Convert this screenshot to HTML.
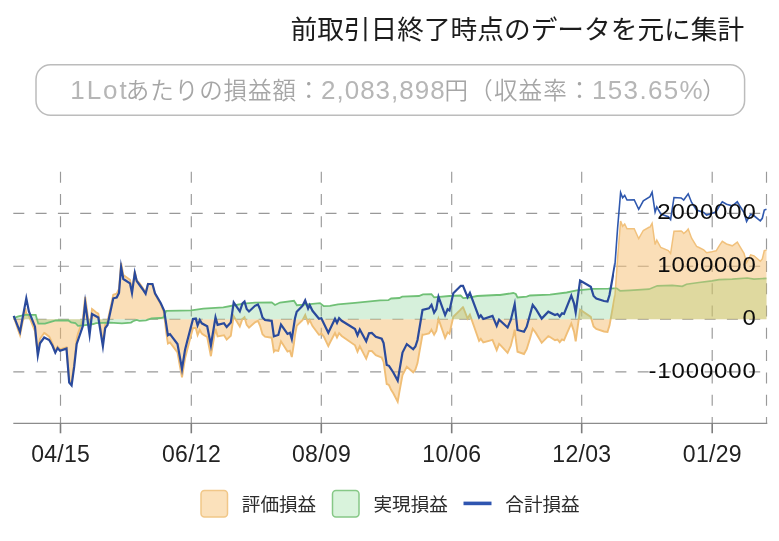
<!DOCTYPE html>
<html lang="ja"><head><meta charset="utf-8"><title>chart</title>
<style>
html,body{margin:0;padding:0;background:#fff;}
body{width:779px;height:541px;overflow:hidden;}
svg{display:block;}
text{font-family:"Liberation Sans","Noto Sans CJK JP",sans-serif;}
.ttl{font-size:26.7px;fill:#1c1c1c;font-weight:400;}
.box{fill:#a6a6a6;font-weight:350;}
.lat{font-size:26px;fill:#b6b6b6;}
.cjk{font-size:23.5px;}
.yl{font-size:22px;fill:#0c0c0c;letter-spacing:0.8px;}
.xl{font-size:23px;fill:#222;letter-spacing:0.3px;}
.lg{font-size:18.6px;fill:#2c2c2c;}
</style></head><body>
<svg width="779" height="541" viewBox="0 0 779 541">
<rect width="779" height="541" fill="#fff"/>
<text x="744.2" y="39.2" text-anchor="end" class="ttl">前取引日終了時点のデータを元に集計</text>
<rect x="36" y="64.8" width="708.6" height="50.4" rx="14.5" ry="14.5" fill="#fff" stroke="#bcbcbc" stroke-width="1.5"/>
<text class="box"><tspan x="70.3" y="99.1" class="lat" style="letter-spacing:1.9px">1Lot</tspan><tspan x="125.8" y="98.8" class="cjk" style="letter-spacing:0.95px">あたりの損益額：</tspan><tspan x="321" y="99.1" class="lat" style="letter-spacing:1.0px">2,083,898</tspan><tspan x="444.6" y="98.8" class="cjk" style="letter-spacing:1.15px">円（収益率：</tspan><tspan x="592" y="99.1" class="lat" style="letter-spacing:1.34px">153.65%</tspan><tspan x="702.2" y="98.8" class="cjk">）</tspan></text>
<g stroke="#999" stroke-width="1.15" stroke-dasharray="11 11.3" fill="none">
<line x1="13.3" y1="213.3" x2="766.5" y2="213.3"/>
<line x1="13.3" y1="266.2" x2="766.5" y2="266.2"/>
<line x1="13.3" y1="319.2" x2="766.5" y2="319.2"/>
<line x1="13.3" y1="371.8" x2="766.5" y2="371.8"/>
<line x1="60.5" y1="171.7" x2="60.5" y2="423.3"/>
<line x1="191.3" y1="171.7" x2="191.3" y2="423.3"/>
<line x1="321.3" y1="171.7" x2="321.3" y2="423.3"/>
<line x1="451.7" y1="171.7" x2="451.7" y2="423.3"/>
<line x1="581.7" y1="171.7" x2="581.7" y2="423.3"/>
<line x1="712.2" y1="171.7" x2="712.2" y2="423.3"/>
<line x1="766.5" y1="171.7" x2="766.5" y2="423.3"/>
</g>
<g stroke="#8c8c8c" stroke-width="1.2"><line x1="13.3" y1="423.3" x2="767.3" y2="423.3"/>
<line x1="60.5" y1="423.3" x2="60.5" y2="433.3" stroke="#7d7d7d" stroke-width="1.6"/>
<line x1="191.3" y1="423.3" x2="191.3" y2="433.3" stroke="#7d7d7d" stroke-width="1.6"/>
<line x1="321.3" y1="423.3" x2="321.3" y2="433.3" stroke="#7d7d7d" stroke-width="1.6"/>
<line x1="451.7" y1="423.3" x2="451.7" y2="433.3" stroke="#7d7d7d" stroke-width="1.6"/>
<line x1="581.7" y1="423.3" x2="581.7" y2="433.3" stroke="#7d7d7d" stroke-width="1.6"/>
<line x1="712.2" y1="423.3" x2="712.2" y2="433.3" stroke="#7d7d7d" stroke-width="1.6"/>
</g>
<defs><clipPath id="cl"><rect x="0" y="150" width="614.0" height="300"/></clipPath><clipPath id="cr"><rect x="614.0" y="150" width="165.0" height="300"/></clipPath><clipPath id="cl2"><rect x="0" y="150" width="612" height="300"/></clipPath><clipPath id="cr2"><rect x="612" y="150" width="167" height="300"/></clipPath></defs>
<path d="M13.7,319.2 L13.7,316.8 L18.3,330.5 L20.0,335.2 L25.3,308.2 L26.3,313.5 L28.9,315.9 L35.0,331.1 L35.7,338.3 L37.8,352.5 L38.3,347.9 L40.0,338.8 L44.2,333.0 L45.0,333.4 L49.2,336.7 L52.5,343.5 L55.3,351.3 L55.8,350.5 L57.6,346.8 L60.0,349.5 L66.5,347.3 L68.3,370.0 L69.2,380.6 L71.1,381.7 L71.6,382.2 L74.2,363.1 L75.3,352.9 L76.7,338.7 L78.0,333.6 L82.8,320.0 L83.6,312.1 L85.2,296.9 L89.6,329.4 L92.0,309.0 L93.3,309.9 L96.0,312.2 L98.3,313.6 L102.9,342.5 L105.2,324.6 L107.5,321.5 L110.0,310.1 L113.3,294.7 L116.7,293.6 L119.0,289.0 L121.1,262.9 L121.9,267.1 L123.3,274.9 L130.0,279.8 L131.0,284.7 L132.0,290.4 L133.0,284.0 L134.8,271.5 L136.7,280.2 L139.4,283.1 L142.5,287.6 L145.6,292.6 L146.0,290.9 L148.0,283.6 L151.5,284.7 L152.5,284.8 L155.0,294.2 L160.7,304.3 L160.8,304.5 L163.5,311.2 L164.2,314.4 L166.2,332.2 L167.9,343.6 L170.0,342.4 L177.5,352.5 L180.0,366.5 L182.0,377.4 L185.0,358.6 L187.5,348.7 L191.3,334.3 L193.0,328.0 L195.8,328.0 L197.6,335.1 L199.8,330.0 L201.8,333.6 L203.3,334.6 L207.2,337.0 L210.9,356.2 L215.5,328.7 L217.6,336.4 L223.3,335.4 L224.0,335.3 L226.7,339.6 L230.8,335.8 L233.3,318.7 L233.7,316.2 L239.8,326.4 L242.5,318.7 L243.3,318.2 L244.5,317.2 L246.7,324.9 L249.0,327.6 L255.0,322.3 L257.9,320.9 L260.0,325.6 L262.5,334.2 L265.0,336.7 L271.7,337.7 L273.9,351.6 L275.0,350.3 L278.3,350.9 L280.0,345.1 L281.0,341.3 L287.5,351.6 L289.9,350.7 L291.8,357.1 L294.0,343.1 L295.0,335.2 L296.7,326.0 L296.9,325.5 L302.5,320.2 L305.0,315.4 L305.2,315.0 L308.1,323.4 L309.7,320.2 L312.5,326.1 L319.0,334.8 L320.0,334.7 L321.3,333.4 L323.8,336.6 L328.3,346.1 L330.0,342.5 L335.0,333.0 L337.0,337.5 L338.0,335.4 L339.1,333.1 L341.7,336.0 L355.0,345.3 L357.5,351.7 L359.8,346.3 L366.2,358.6 L369.0,351.0 L371.8,351.0 L375.8,355.1 L380.0,356.9 L381.7,357.5 L383.6,361.9 L386.7,384.0 L388.3,384.6 L389.0,385.2 L391.1,389.8 L393.3,393.3 L397.7,401.7 L399.4,391.8 L402.2,376.7 L402.5,375.0 L406.8,366.7 L413.2,372.3 L415.4,369.6 L417.5,363.1 L418.9,354.8 L422.5,334.7 L423.0,334.8 L429.0,333.3 L431.4,330.1 L431.5,329.8 L434.1,334.6 L434.2,334.4 L436.3,331.0 L438.5,319.0 L445.1,337.9 L447.6,332.3 L449.4,333.5 L449.5,333.6 L453.3,316.7 L460.6,309.7 L460.8,309.3 L463.0,307.2 L463.3,307.6 L467.6,318.6 L468.9,316.3 L469.9,314.7 L477.2,335.5 L479.1,340.8 L480.8,338.8 L483.3,342.5 L492.5,339.9 L496.7,350.1 L496.7,350.1 L499.1,343.8 L500.0,344.6 L507.6,352.8 L510.8,345.8 L513.3,335.9 L514.7,329.6 L515.8,339.5 L517.5,351.7 L524.0,354.0 L526.7,349.2 L530.0,338.5 L532.7,328.8 L535.8,332.9 L541.7,342.8 L548.3,336.1 L550.0,337.0 L555.0,340.2 L557.5,339.5 L559.7,342.2 L562.0,339.4 L564.0,340.3 L566.7,333.8 L571.3,323.4 L574.0,331.6 L575.7,341.3 L576.7,334.0 L580.1,309.7 L590.8,316.9 L593.3,325.4 L593.6,326.4 L596.3,328.9 L604.0,331.5 L607.5,332.0 L608.3,329.3 L609.5,325.6 L612.0,311.7 L615.0,294.8 L616.7,271.4 L617.6,258.2 L620.0,228.4 L620.6,221.0 L622.6,226.3 L624.7,224.0 L627.0,228.8 L630.0,228.8 L634.2,228.8 L638.7,238.7 L643.3,230.5 L649.0,227.3 L650.0,227.1 L652.1,223.4 L655.1,244.6 L656.8,240.1 L657.3,241.2 L660.8,247.5 L668.3,250.5 L670.6,253.5 L672.3,242.4 L674.0,231.2 L681.2,231.0 L682.3,231.8 L683.7,233.5 L686.5,231.1 L688.2,229.0 L691.6,238.2 L696.6,246.4 L699.0,247.5 L703.7,249.8 L706.6,252.7 L712.0,251.7 L712.2,251.6 L716.2,250.8 L719.0,246.2 L719.5,245.3 L722.3,241.3 L726.5,244.0 L732.3,245.8 L737.3,242.2 L739.8,246.4 L744.0,253.4 L746.6,262.7 L747.3,261.5 L750.7,254.8 L754.0,255.8 L760.3,261.2 L762.3,258.9 L764.3,250.7 L766.5,250.1 L766.5,319.2 Z" fill="#f5b968" fill-opacity="0.48"/>
<polyline clip-path="url(#cl)" points="13.7,316.8 18.3,330.5 20.0,335.2 25.3,308.2 26.3,313.5 28.9,315.9 35.0,331.1 35.7,338.3 37.8,352.5 38.3,347.9 40.0,338.8 44.2,333.0 45.0,333.4 49.2,336.7 52.5,343.5 55.3,351.3 55.8,350.5 57.6,346.8 60.0,349.5 66.5,347.3 68.3,370.0 69.2,380.6 71.1,381.7 71.6,382.2 74.2,363.1 75.3,352.9 76.7,338.7 78.0,333.6 82.8,320.0 83.6,312.1 85.2,296.9 89.6,329.4 92.0,309.0 93.3,309.9 96.0,312.2 98.3,313.6 102.9,342.5 105.2,324.6 107.5,321.5 110.0,310.1 113.3,294.7 116.7,293.6 119.0,289.0 121.1,262.9 121.9,267.1 123.3,274.9 130.0,279.8 131.0,284.7 132.0,290.4 133.0,284.0 134.8,271.5 136.7,280.2 139.4,283.1 142.5,287.6 145.6,292.6 146.0,290.9 148.0,283.6 151.5,284.7 152.5,284.8 155.0,294.2 160.7,304.3 160.8,304.5 163.5,311.2 164.2,314.4 166.2,332.2 167.9,343.6 170.0,342.4 177.5,352.5 180.0,366.5 182.0,377.4 185.0,358.6 187.5,348.7 191.3,334.3 193.0,328.0 195.8,328.0 197.6,335.1 199.8,330.0 201.8,333.6 203.3,334.6 207.2,337.0 210.9,356.2 215.5,328.7 217.6,336.4 223.3,335.4 224.0,335.3 226.7,339.6 230.8,335.8 233.3,318.7 233.7,316.2 239.8,326.4 242.5,318.7 243.3,318.2 244.5,317.2 246.7,324.9 249.0,327.6 255.0,322.3 257.9,320.9 260.0,325.6 262.5,334.2 265.0,336.7 271.7,337.7 273.9,351.6 275.0,350.3 278.3,350.9 280.0,345.1 281.0,341.3 287.5,351.6 289.9,350.7 291.8,357.1 294.0,343.1 295.0,335.2 296.7,326.0 296.9,325.5 302.5,320.2 305.0,315.4 305.2,315.0 308.1,323.4 309.7,320.2 312.5,326.1 319.0,334.8 320.0,334.7 321.3,333.4 323.8,336.6 328.3,346.1 330.0,342.5 335.0,333.0 337.0,337.5 338.0,335.4 339.1,333.1 341.7,336.0 355.0,345.3 357.5,351.7 359.8,346.3 366.2,358.6 369.0,351.0 371.8,351.0 375.8,355.1 380.0,356.9 381.7,357.5 383.6,361.9 386.7,384.0 388.3,384.6 389.0,385.2 391.1,389.8 393.3,393.3 397.7,401.7 399.4,391.8 402.2,376.7 402.5,375.0 406.8,366.7 413.2,372.3 415.4,369.6 417.5,363.1 418.9,354.8 422.5,334.7 423.0,334.8 429.0,333.3 431.4,330.1 431.5,329.8 434.1,334.6 434.2,334.4 436.3,331.0 438.5,319.0 445.1,337.9 447.6,332.3 449.4,333.5 449.5,333.6 453.3,316.7 460.6,309.7 460.8,309.3 463.0,307.2 463.3,307.6 467.6,318.6 468.9,316.3 469.9,314.7 477.2,335.5 479.1,340.8 480.8,338.8 483.3,342.5 492.5,339.9 496.7,350.1 496.7,350.1 499.1,343.8 500.0,344.6 507.6,352.8 510.8,345.8 513.3,335.9 514.7,329.6 515.8,339.5 517.5,351.7 524.0,354.0 526.7,349.2 530.0,338.5 532.7,328.8 535.8,332.9 541.7,342.8 548.3,336.1 550.0,337.0 555.0,340.2 557.5,339.5 559.7,342.2 562.0,339.4 564.0,340.3 566.7,333.8 571.3,323.4 574.0,331.6 575.7,341.3 576.7,334.0 580.1,309.7 590.8,316.9 593.3,325.4 593.6,326.4 596.3,328.9 604.0,331.5 607.5,332.0 608.3,329.3 609.5,325.6 612.0,311.7 615.0,294.8 616.7,271.4 617.6,258.2 620.0,228.4 620.6,221.0 622.6,226.3 624.7,224.0 627.0,228.8 630.0,228.8 634.2,228.8 638.7,238.7 643.3,230.5 649.0,227.3 650.0,227.1 652.1,223.4 655.1,244.6 656.8,240.1 657.3,241.2 660.8,247.5 668.3,250.5 670.6,253.5 672.3,242.4 674.0,231.2 681.2,231.0 682.3,231.8 683.7,233.5 686.5,231.1 688.2,229.0 691.6,238.2 696.6,246.4 699.0,247.5 703.7,249.8 706.6,252.7 712.0,251.7 712.2,251.6 716.2,250.8 719.0,246.2 719.5,245.3 722.3,241.3 726.5,244.0 732.3,245.8 737.3,242.2 739.8,246.4 744.0,253.4 746.6,262.7 747.3,261.5 750.7,254.8 754.0,255.8 760.3,261.2 762.3,258.9 764.3,250.7 766.5,250.1" fill="none" stroke="#f0be76" stroke-width="1.9" stroke-linejoin="miter" stroke-miterlimit="4"/>
<polyline clip-path="url(#cr)" points="13.7,316.8 18.3,330.5 20.0,335.2 25.3,308.2 26.3,313.5 28.9,315.9 35.0,331.1 35.7,338.3 37.8,352.5 38.3,347.9 40.0,338.8 44.2,333.0 45.0,333.4 49.2,336.7 52.5,343.5 55.3,351.3 55.8,350.5 57.6,346.8 60.0,349.5 66.5,347.3 68.3,370.0 69.2,380.6 71.1,381.7 71.6,382.2 74.2,363.1 75.3,352.9 76.7,338.7 78.0,333.6 82.8,320.0 83.6,312.1 85.2,296.9 89.6,329.4 92.0,309.0 93.3,309.9 96.0,312.2 98.3,313.6 102.9,342.5 105.2,324.6 107.5,321.5 110.0,310.1 113.3,294.7 116.7,293.6 119.0,289.0 121.1,262.9 121.9,267.1 123.3,274.9 130.0,279.8 131.0,284.7 132.0,290.4 133.0,284.0 134.8,271.5 136.7,280.2 139.4,283.1 142.5,287.6 145.6,292.6 146.0,290.9 148.0,283.6 151.5,284.7 152.5,284.8 155.0,294.2 160.7,304.3 160.8,304.5 163.5,311.2 164.2,314.4 166.2,332.2 167.9,343.6 170.0,342.4 177.5,352.5 180.0,366.5 182.0,377.4 185.0,358.6 187.5,348.7 191.3,334.3 193.0,328.0 195.8,328.0 197.6,335.1 199.8,330.0 201.8,333.6 203.3,334.6 207.2,337.0 210.9,356.2 215.5,328.7 217.6,336.4 223.3,335.4 224.0,335.3 226.7,339.6 230.8,335.8 233.3,318.7 233.7,316.2 239.8,326.4 242.5,318.7 243.3,318.2 244.5,317.2 246.7,324.9 249.0,327.6 255.0,322.3 257.9,320.9 260.0,325.6 262.5,334.2 265.0,336.7 271.7,337.7 273.9,351.6 275.0,350.3 278.3,350.9 280.0,345.1 281.0,341.3 287.5,351.6 289.9,350.7 291.8,357.1 294.0,343.1 295.0,335.2 296.7,326.0 296.9,325.5 302.5,320.2 305.0,315.4 305.2,315.0 308.1,323.4 309.7,320.2 312.5,326.1 319.0,334.8 320.0,334.7 321.3,333.4 323.8,336.6 328.3,346.1 330.0,342.5 335.0,333.0 337.0,337.5 338.0,335.4 339.1,333.1 341.7,336.0 355.0,345.3 357.5,351.7 359.8,346.3 366.2,358.6 369.0,351.0 371.8,351.0 375.8,355.1 380.0,356.9 381.7,357.5 383.6,361.9 386.7,384.0 388.3,384.6 389.0,385.2 391.1,389.8 393.3,393.3 397.7,401.7 399.4,391.8 402.2,376.7 402.5,375.0 406.8,366.7 413.2,372.3 415.4,369.6 417.5,363.1 418.9,354.8 422.5,334.7 423.0,334.8 429.0,333.3 431.4,330.1 431.5,329.8 434.1,334.6 434.2,334.4 436.3,331.0 438.5,319.0 445.1,337.9 447.6,332.3 449.4,333.5 449.5,333.6 453.3,316.7 460.6,309.7 460.8,309.3 463.0,307.2 463.3,307.6 467.6,318.6 468.9,316.3 469.9,314.7 477.2,335.5 479.1,340.8 480.8,338.8 483.3,342.5 492.5,339.9 496.7,350.1 496.7,350.1 499.1,343.8 500.0,344.6 507.6,352.8 510.8,345.8 513.3,335.9 514.7,329.6 515.8,339.5 517.5,351.7 524.0,354.0 526.7,349.2 530.0,338.5 532.7,328.8 535.8,332.9 541.7,342.8 548.3,336.1 550.0,337.0 555.0,340.2 557.5,339.5 559.7,342.2 562.0,339.4 564.0,340.3 566.7,333.8 571.3,323.4 574.0,331.6 575.7,341.3 576.7,334.0 580.1,309.7 590.8,316.9 593.3,325.4 593.6,326.4 596.3,328.9 604.0,331.5 607.5,332.0 608.3,329.3 609.5,325.6 612.0,311.7 615.0,294.8 616.7,271.4 617.6,258.2 620.0,228.4 620.6,221.0 622.6,226.3 624.7,224.0 627.0,228.8 630.0,228.8 634.2,228.8 638.7,238.7 643.3,230.5 649.0,227.3 650.0,227.1 652.1,223.4 655.1,244.6 656.8,240.1 657.3,241.2 660.8,247.5 668.3,250.5 670.6,253.5 672.3,242.4 674.0,231.2 681.2,231.0 682.3,231.8 683.7,233.5 686.5,231.1 688.2,229.0 691.6,238.2 696.6,246.4 699.0,247.5 703.7,249.8 706.6,252.7 712.0,251.7 712.2,251.6 716.2,250.8 719.0,246.2 719.5,245.3 722.3,241.3 726.5,244.0 732.3,245.8 737.3,242.2 739.8,246.4 744.0,253.4 746.6,262.7 747.3,261.5 750.7,254.8 754.0,255.8 760.3,261.2 762.3,258.9 764.3,250.7 766.5,250.1" fill="none" stroke="#f1c17c" stroke-width="1.5" stroke-linejoin="miter" stroke-miterlimit="4"/>
<path clip-path="url(#cl2)" d="M13.7,319.2 L13.7,318.2 L18.3,316.3 L25.3,314.8 L35.7,314.8 L38.3,323.7 L45.0,323.7 L55.8,320.5 L68.3,320.5 L71.1,322.3 L75.3,323.0 L78.0,325.8 L83.6,325.3 L93.3,324.0 L96.0,323.2 L110.0,322.6 L121.9,323.4 L131.0,322.6 L133.0,321.2 L136.7,320.0 L139.4,320.8 L146.0,320.3 L151.5,318.5 L160.7,318.0 L163.5,317.3 L166.2,310.9 L180.0,310.7 L191.3,310.4 L203.3,308.7 L223.3,307.3 L233.3,305.5 L243.3,303.6 L255.0,302.7 L271.7,302.3 L275.0,305.0 L280.0,302.5 L294.0,300.8 L296.9,305.2 L305.0,304.6 L320.0,303.1 L323.8,306.1 L330.0,305.9 L338.0,304.3 L355.0,302.9 L380.0,300.4 L388.3,300.2 L391.1,298.5 L399.4,298.0 L402.2,296.7 L418.9,296.0 L423.0,294.3 L431.4,294.2 L434.2,297.4 L449.4,296.0 L460.6,295.5 L463.3,298.1 L468.9,297.6 L477.2,296.0 L496.7,295.0 L500.0,295.0 L513.3,293.0 L515.8,294.0 L517.5,297.5 L526.7,296.7 L530.0,295.5 L550.0,294.7 L566.7,292.5 L576.7,290.3 L593.3,288.8 L608.3,288.7 L616.7,288.3 L620.0,290.8 L630.0,290.3 L649.0,289.2 L657.3,285.8 L672.3,285.3 L682.3,286.3 L686.5,284.2 L699.0,282.5 L712.0,280.8 L719.0,279.7 L732.3,279.2 L747.3,278.0 L754.0,279.2 L766.5,278.3 L766.5,319.2 Z" fill="rgb(118,205,135)" fill-opacity="0.30"/>
<path clip-path="url(#cr2)" d="M13.7,319.2 L13.7,318.2 L18.3,316.3 L25.3,314.8 L35.7,314.8 L38.3,323.7 L45.0,323.7 L55.8,320.5 L68.3,320.5 L71.1,322.3 L75.3,323.0 L78.0,325.8 L83.6,325.3 L93.3,324.0 L96.0,323.2 L110.0,322.6 L121.9,323.4 L131.0,322.6 L133.0,321.2 L136.7,320.0 L139.4,320.8 L146.0,320.3 L151.5,318.5 L160.7,318.0 L163.5,317.3 L166.2,310.9 L180.0,310.7 L191.3,310.4 L203.3,308.7 L223.3,307.3 L233.3,305.5 L243.3,303.6 L255.0,302.7 L271.7,302.3 L275.0,305.0 L280.0,302.5 L294.0,300.8 L296.9,305.2 L305.0,304.6 L320.0,303.1 L323.8,306.1 L330.0,305.9 L338.0,304.3 L355.0,302.9 L380.0,300.4 L388.3,300.2 L391.1,298.5 L399.4,298.0 L402.2,296.7 L418.9,296.0 L423.0,294.3 L431.4,294.2 L434.2,297.4 L449.4,296.0 L460.6,295.5 L463.3,298.1 L468.9,297.6 L477.2,296.0 L496.7,295.0 L500.0,295.0 L513.3,293.0 L515.8,294.0 L517.5,297.5 L526.7,296.7 L530.0,295.5 L550.0,294.7 L566.7,292.5 L576.7,290.3 L593.3,288.8 L608.3,288.7 L616.7,288.3 L620.0,290.8 L630.0,290.3 L649.0,289.2 L657.3,285.8 L672.3,285.3 L682.3,286.3 L686.5,284.2 L699.0,282.5 L712.0,280.8 L719.0,279.7 L732.3,279.2 L747.3,278.0 L754.0,279.2 L766.5,278.3 L766.5,319.2 Z" fill="rgb(161,205,106)" fill-opacity="0.30"/>
<polyline clip-path="url(#cl)" points="13.7,318.2 18.3,316.3 25.3,314.8 35.7,314.8 38.3,323.7 45.0,323.7 55.8,320.5 68.3,320.5 71.1,322.3 75.3,323.0 78.0,325.8 83.6,325.3 93.3,324.0 96.0,323.2 110.0,322.6 121.9,323.4 131.0,322.6 133.0,321.2 136.7,320.0 139.4,320.8 146.0,320.3 151.5,318.5 160.7,318.0 163.5,317.3 166.2,310.9 180.0,310.7 191.3,310.4 203.3,308.7 223.3,307.3 233.3,305.5 243.3,303.6 255.0,302.7 271.7,302.3 275.0,305.0 280.0,302.5 294.0,300.8 296.9,305.2 305.0,304.6 320.0,303.1 323.8,306.1 330.0,305.9 338.0,304.3 355.0,302.9 380.0,300.4 388.3,300.2 391.1,298.5 399.4,298.0 402.2,296.7 418.9,296.0 423.0,294.3 431.4,294.2 434.2,297.4 449.4,296.0 460.6,295.5 463.3,298.1 468.9,297.6 477.2,296.0 496.7,295.0 500.0,295.0 513.3,293.0 515.8,294.0 517.5,297.5 526.7,296.7 530.0,295.5 550.0,294.7 566.7,292.5 576.7,290.3 593.3,288.8 608.3,288.7 616.7,288.3 620.0,290.8 630.0,290.3 649.0,289.2 657.3,285.8 672.3,285.3 682.3,286.3 686.5,284.2 699.0,282.5 712.0,280.8 719.0,279.7 732.3,279.2 747.3,278.0 754.0,279.2 766.5,278.3" fill="none" stroke="#70c076" stroke-width="1.8" stroke-linejoin="miter" stroke-miterlimit="4"/>
<polyline clip-path="url(#cr)" points="13.7,318.2 18.3,316.3 25.3,314.8 35.7,314.8 38.3,323.7 45.0,323.7 55.8,320.5 68.3,320.5 71.1,322.3 75.3,323.0 78.0,325.8 83.6,325.3 93.3,324.0 96.0,323.2 110.0,322.6 121.9,323.4 131.0,322.6 133.0,321.2 136.7,320.0 139.4,320.8 146.0,320.3 151.5,318.5 160.7,318.0 163.5,317.3 166.2,310.9 180.0,310.7 191.3,310.4 203.3,308.7 223.3,307.3 233.3,305.5 243.3,303.6 255.0,302.7 271.7,302.3 275.0,305.0 280.0,302.5 294.0,300.8 296.9,305.2 305.0,304.6 320.0,303.1 323.8,306.1 330.0,305.9 338.0,304.3 355.0,302.9 380.0,300.4 388.3,300.2 391.1,298.5 399.4,298.0 402.2,296.7 418.9,296.0 423.0,294.3 431.4,294.2 434.2,297.4 449.4,296.0 460.6,295.5 463.3,298.1 468.9,297.6 477.2,296.0 496.7,295.0 500.0,295.0 513.3,293.0 515.8,294.0 517.5,297.5 526.7,296.7 530.0,295.5 550.0,294.7 566.7,292.5 576.7,290.3 593.3,288.8 608.3,288.7 616.7,288.3 620.0,290.8 630.0,290.3 649.0,289.2 657.3,285.8 672.3,285.3 682.3,286.3 686.5,284.2 699.0,282.5 712.0,280.8 719.0,279.7 732.3,279.2 747.3,278.0 754.0,279.2 766.5,278.3" fill="none" stroke="#a2c178" stroke-width="1.7" stroke-linejoin="miter" stroke-miterlimit="4"/>
<polyline clip-path="url(#cl)" points="13.7,315.8 20.0,331.9 26.3,298.4 28.9,311.5 35.0,326.7 37.8,355.3 40.0,343.3 44.2,337.5 49.2,340.0 52.5,345.8 55.3,352.7 57.6,348.1 60.0,350.8 66.5,348.6 69.2,382.5 71.6,385.4 74.2,366.7 76.7,344.0 82.8,326.2 85.2,302.8 89.6,334.7 92.0,314.0 98.3,317.5 102.9,346.2 105.2,328.2 107.5,325.0 113.3,298.3 116.7,297.5 119.0,293.0 121.1,267.0 123.3,279.0 130.0,283.3 132.0,293.1 134.8,272.9 136.7,281.0 142.5,289.0 145.6,293.7 148.0,284.0 152.5,284.0 155.0,293.3 160.8,303.3 164.2,310.8 167.9,335.3 170.0,334.1 177.5,344.0 182.0,368.9 185.0,350.0 187.5,340.0 193.0,319.0 195.8,318.6 197.6,325.4 199.8,320.0 201.8,323.3 207.2,326.2 210.9,345.2 215.5,317.3 217.6,324.9 224.0,323.3 226.7,327.1 230.8,322.5 233.7,302.4 239.8,311.4 242.5,303.3 244.5,301.5 246.7,309.0 249.0,311.5 255.0,305.8 257.9,304.4 260.0,309.0 262.5,317.5 265.0,320.0 271.7,320.8 273.9,336.4 278.3,335.0 281.0,324.5 287.5,333.9 289.9,332.8 291.8,339.0 295.0,318.3 296.7,311.7 302.5,305.8 305.2,300.4 308.1,308.5 309.7,305.1 312.5,310.8 319.0,318.8 321.3,318.3 328.3,332.8 335.0,318.7 337.0,322.8 339.1,318.1 341.7,320.8 355.0,329.0 357.5,335.2 359.8,329.5 366.2,341.2 369.0,333.3 371.8,333.0 375.8,336.7 381.7,338.7 383.6,343.0 386.7,365.0 389.0,365.8 393.3,372.5 397.7,380.6 402.5,352.5 406.8,344.1 413.2,349.3 415.4,346.5 417.5,340.0 422.5,310.0 429.0,308.3 431.5,304.9 434.1,312.7 436.3,309.0 438.5,296.8 445.1,315.1 447.6,309.2 449.5,310.4 453.3,293.3 460.8,285.8 463.0,285.8 467.6,297.1 469.9,292.9 479.1,317.5 480.8,315.4 483.3,319.0 492.5,315.9 496.7,325.9 499.1,319.6 507.6,327.5 510.8,320.0 514.7,304.0 517.5,330.0 524.0,331.7 526.7,326.7 532.7,305.0 535.8,309.0 541.7,318.6 548.3,311.7 555.0,315.0 557.5,314.0 559.7,316.4 562.0,313.3 564.0,313.9 571.3,295.7 574.0,303.3 575.7,312.6 580.1,280.5 590.8,286.7 593.6,296.0 596.3,298.5 604.0,301.0 607.5,301.5 609.5,295.0 612.0,281.0 615.0,264.0 617.6,228.0 620.6,192.5 622.6,197.8 624.7,195.4 627.0,200.0 634.2,199.7 638.7,209.3 643.3,200.8 650.0,196.7 652.1,192.2 655.1,212.1 656.8,206.9 660.8,214.0 668.3,216.7 670.6,219.6 674.0,197.5 681.2,198.0 683.7,200.0 688.2,193.8 691.6,202.5 696.6,210.0 703.7,212.5 706.6,215.0 712.2,213.2 716.2,211.7 719.5,205.8 722.3,201.7 726.5,204.2 732.3,205.8 737.3,201.8 739.8,205.8 744.0,212.5 746.6,221.5 750.7,214.2 754.0,215.8 760.3,220.8 762.3,218.3 764.3,210.0 766.5,209.2" fill="none" stroke="#2a4a9c" stroke-width="2.2" stroke-linejoin="miter" stroke-miterlimit="14"/>
<polyline clip-path="url(#cr)" points="13.7,315.8 20.0,331.9 26.3,298.4 28.9,311.5 35.0,326.7 37.8,355.3 40.0,343.3 44.2,337.5 49.2,340.0 52.5,345.8 55.3,352.7 57.6,348.1 60.0,350.8 66.5,348.6 69.2,382.5 71.6,385.4 74.2,366.7 76.7,344.0 82.8,326.2 85.2,302.8 89.6,334.7 92.0,314.0 98.3,317.5 102.9,346.2 105.2,328.2 107.5,325.0 113.3,298.3 116.7,297.5 119.0,293.0 121.1,267.0 123.3,279.0 130.0,283.3 132.0,293.1 134.8,272.9 136.7,281.0 142.5,289.0 145.6,293.7 148.0,284.0 152.5,284.0 155.0,293.3 160.8,303.3 164.2,310.8 167.9,335.3 170.0,334.1 177.5,344.0 182.0,368.9 185.0,350.0 187.5,340.0 193.0,319.0 195.8,318.6 197.6,325.4 199.8,320.0 201.8,323.3 207.2,326.2 210.9,345.2 215.5,317.3 217.6,324.9 224.0,323.3 226.7,327.1 230.8,322.5 233.7,302.4 239.8,311.4 242.5,303.3 244.5,301.5 246.7,309.0 249.0,311.5 255.0,305.8 257.9,304.4 260.0,309.0 262.5,317.5 265.0,320.0 271.7,320.8 273.9,336.4 278.3,335.0 281.0,324.5 287.5,333.9 289.9,332.8 291.8,339.0 295.0,318.3 296.7,311.7 302.5,305.8 305.2,300.4 308.1,308.5 309.7,305.1 312.5,310.8 319.0,318.8 321.3,318.3 328.3,332.8 335.0,318.7 337.0,322.8 339.1,318.1 341.7,320.8 355.0,329.0 357.5,335.2 359.8,329.5 366.2,341.2 369.0,333.3 371.8,333.0 375.8,336.7 381.7,338.7 383.6,343.0 386.7,365.0 389.0,365.8 393.3,372.5 397.7,380.6 402.5,352.5 406.8,344.1 413.2,349.3 415.4,346.5 417.5,340.0 422.5,310.0 429.0,308.3 431.5,304.9 434.1,312.7 436.3,309.0 438.5,296.8 445.1,315.1 447.6,309.2 449.5,310.4 453.3,293.3 460.8,285.8 463.0,285.8 467.6,297.1 469.9,292.9 479.1,317.5 480.8,315.4 483.3,319.0 492.5,315.9 496.7,325.9 499.1,319.6 507.6,327.5 510.8,320.0 514.7,304.0 517.5,330.0 524.0,331.7 526.7,326.7 532.7,305.0 535.8,309.0 541.7,318.6 548.3,311.7 555.0,315.0 557.5,314.0 559.7,316.4 562.0,313.3 564.0,313.9 571.3,295.7 574.0,303.3 575.7,312.6 580.1,280.5 590.8,286.7 593.6,296.0 596.3,298.5 604.0,301.0 607.5,301.5 609.5,295.0 612.0,281.0 615.0,264.0 617.6,228.0 620.6,192.5 622.6,197.8 624.7,195.4 627.0,200.0 634.2,199.7 638.7,209.3 643.3,200.8 650.0,196.7 652.1,192.2 655.1,212.1 656.8,206.9 660.8,214.0 668.3,216.7 670.6,219.6 674.0,197.5 681.2,198.0 683.7,200.0 688.2,193.8 691.6,202.5 696.6,210.0 703.7,212.5 706.6,215.0 712.2,213.2 716.2,211.7 719.5,205.8 722.3,201.7 726.5,204.2 732.3,205.8 737.3,201.8 739.8,205.8 744.0,212.5 746.6,221.5 750.7,214.2 754.0,215.8 760.3,220.8 762.3,218.3 764.3,210.0 766.5,209.2" fill="none" stroke="#2f58ae" stroke-width="1.6" stroke-linejoin="miter" stroke-miterlimit="14"/>
<text transform="translate(756.7,219.3) scale(1.09,1)" text-anchor="end" class="yl">2000000</text>
<text transform="translate(756.7,272.2) scale(1.09,1)" text-anchor="end" class="yl">1000000</text>
<text transform="translate(756.7,325.2) scale(1.09,1)" text-anchor="end" class="yl">0</text>
<text transform="translate(756.7,377.8) scale(1.09,1)" text-anchor="end" class="yl">-1000000</text>
<text x="60.7" y="461.5" text-anchor="middle" class="xl">04/15</text>
<text x="191.5" y="461.5" text-anchor="middle" class="xl">06/12</text>
<text x="321.5" y="461.5" text-anchor="middle" class="xl">08/09</text>
<text x="451.9" y="461.5" text-anchor="middle" class="xl">10/06</text>
<text x="581.9" y="461.5" text-anchor="middle" class="xl">12/03</text>
<text x="712.4" y="461.5" text-anchor="middle" class="xl">01/29</text>
<rect x="201" y="490.5" width="26.5" height="26.5" rx="3.5" fill="#fbe1bb" stroke="#f1c788" stroke-width="1.5"/>
<text x="241.8" y="510.5" class="lg">評価損益</text>
<rect x="332.5" y="490.5" width="26.5" height="26.5" rx="3.5" fill="#d9f3dc" stroke="#86c886" stroke-width="1.5"/>
<text x="373.5" y="510.5" class="lg">実現損益</text>
<line x1="463.5" y1="503.4" x2="491.5" y2="503.4" stroke="#2f55b0" stroke-width="3.6"/>
<text x="505.3" y="510.5" class="lg">合計損益</text>
</svg>
</body></html>
